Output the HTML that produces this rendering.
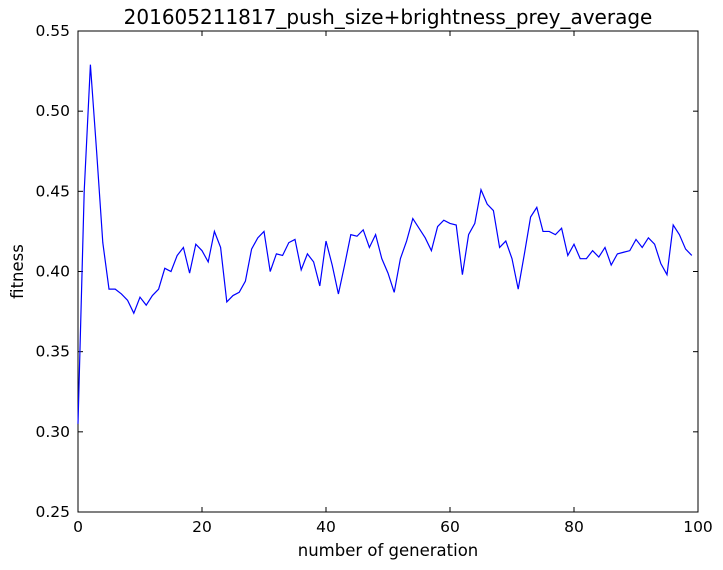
<!DOCTYPE html>
<html><head><meta charset="utf-8"><style>
html,body{margin:0;padding:0;background:#fff;}
svg{display:block;font-family:"DejaVu Sans","Liberation Sans",sans-serif;}
</style></head><body>
<svg id="chart" width="723" height="570"></svg>
<script>
const xTicks=[0,20,40,60,80,100];
const yTicks=[0.25,0.30,0.35,0.40,0.45,0.50,0.55];
const fitness=[0.305,0.45,0.529,0.475,0.418,0.389,0.389,0.386,0.382,0.374,0.384,0.379,0.385,0.389,0.402,0.400,0.410,0.415,0.399,0.417,0.413,0.406,0.425,0.415,0.381,0.385,0.387,0.394,0.414,0.421,0.425,0.400,0.411,0.410,0.418,0.420,0.401,0.411,0.406,0.391,0.419,0.404,0.386,0.404,0.423,0.422,0.426,0.415,0.423,0.408,0.399,0.387,0.408,0.419,0.433,0.427,0.421,0.413,0.428,0.432,0.430,0.429,0.398,0.423,0.430,0.451,0.442,0.438,0.415,0.419,0.408,0.389,0.411,0.434,0.440,0.425,0.425,0.423,0.427,0.410,0.417,0.408,0.408,0.413,0.409,0.415,0.404,0.411,0.412,0.413,0.420,0.415,0.421,0.417,0.405,0.398,0.429,0.423,0.414,0.410];
const L=78,R=698,T=31,B=512;
const sx=v=>L+(v-0)/(100-0)*(R-L);
const sy=v=>B-(v-0.25)/(0.55-0.25)*(B-T);
const svg=document.getElementById('chart');
const NS='http://www.w3.org/2000/svg';
function mk(tag,attrs,parent){const e=document.createElementNS(NS,tag);for(const k in attrs)e.setAttribute(k,attrs[k]);(parent||svg).appendChild(e);return e;}
const frame=mk('rect',{x:L,y:T,width:R-L,height:B-T,fill:'#fff',stroke:'#000','stroke-width':1});


xTicks.forEach(v=>{
  const x=sx(v);
  const t1=mk('line',{x1:x,x2:x,y1:B,y2:B-5,stroke:'#000'});
  
  
  const t2=mk('line',{x1:x,x2:x,y1:T,y2:T+5,stroke:'#000'});
  
  
  const tx=mk('text',{x:x,y:B+20,'text-anchor':'middle','font-size':15.5});
  tx.textContent=v;
  
  
});
yTicks.forEach(v=>{
  const y=sy(v);
  const t1=mk('line',{x1:L,x2:L+5,y1:y,y2:y,stroke:'#000'});
  
  
  const t2=mk('line',{x1:R,x2:R-5,y1:y,y2:y,stroke:'#000'});
  
  
  const tx=mk('text',{x:L-8,y:y+5,'text-anchor':'end','font-size':15.5});
  tx.textContent=v.toFixed(2);
  
  
});
const pts=fitness.map((v,i)=>sx(i).toFixed(2)+','+sy(v).toFixed(2)).join(' ');
const line=mk('polyline',{points:pts,fill:'none',stroke:'#0000ff','stroke-width':1.2});


const title=mk('text',{x:(L+R)/2,y:24,'text-anchor':'middle','font-size':20});
title.textContent='201605211817_push_size+brightness_prey_average';


const xl=mk('text',{x:(L+R)/2,y:556,'text-anchor':'middle','font-size':16.5});
xl.textContent='number of generation';


const yl=mk('text',{x:0,y:0,'text-anchor':'middle','font-size':16.5,transform:'translate(23,'+((T+B)/2)+') rotate(-90)'});
yl.textContent='fitness';


</script>
</body></html>
